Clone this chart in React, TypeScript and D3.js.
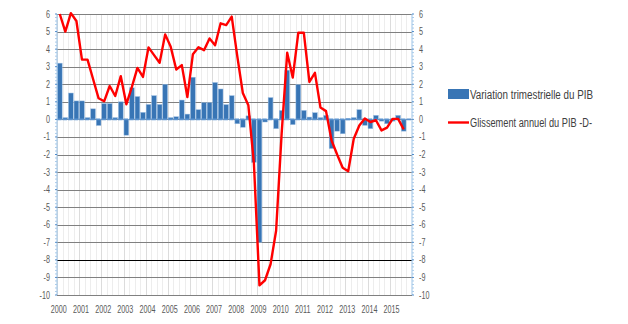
import React from "react";
import * as d3 from "d3";

const years = [2000, 2001, 2002, 2003, 2004, 2005, 2006, 2007, 2008, 2009, 2010, 2011, 2012, 2013, 2014, 2015];
const quarterNames = ["T1", "T2", "T3", "T4"];

// Variation trimestrielle du PIB (bars), 2000T1 .. 2015T3
const variationTrimestrielle = [
  3.2, 0.1, 1.5, 1.05,
  1.05, 0.1, 0.6, -0.35,
  0.9, 0.9, 0.1, 1.0,
  -0.9, 1.8, 1.3, 0.4,
  0.85, 1.35, 0.85, 2.0,
  0.1, 0.15, 1.1, 0.3,
  2.4, 0.55, 0.95, 0.95,
  2.1, 1.73, 0.84, 1.35,
  -0.25, -0.45, 0.2, -2.45,
  -7.0, -0.15, 1.24, -0.53,
  0.51, 2.8, -0.3, 1.98,
  0.51, 0.13, 0.38, 0.1,
  0.23, -1.66, -0.67, -0.82,
  0.05, 0.1, 0.55, -0.34,
  -0.53, 0.23, -0.1, -0.25,
  -0.1, 0.23, -0.67,
];

// Glissement annuel du PIB -D- (line)
const glissementAnnuel = [
  6.0, 5.0, 6.05, 5.6,
  3.4, 3.4, 2.3, 1.2,
  1.03, 1.9, 1.33, 2.46,
  0.86, 1.85, 2.93, 2.42,
  4.1, 3.66, 3.22, 4.84,
  4.13, 2.84, 3.09, 1.27,
  3.71, 4.11, 3.94, 4.61,
  4.22, 5.47, 5.37, 5.85,
  3.6, 1.5, 0.8, -2.5,
  -9.45, -9.16, -8.25, -6.34,
  -0.8, 3.79, 2.38, 4.93,
  4.93, 2.13, 2.65, 0.67,
  0.47, -1.2, -2.0, -2.75,
  -2.95, -1.1, -0.35, 0.05,
  -0.15, -0.05, -0.63, -0.47,
  0.03, 0.03, -0.57,
];

const yTicks = [6, 5, 4, 3, 2, 1, 0, -1, -2, -3, -4, -5, -6, -7, -8, -9, -10];
const legendLabels = ["Variation trimestrielle du PIB", "Glissement annuel du PIB -D-"];

const W = 628;
const H = 324;
const left = 57;
const right = 412;
const top = 14;
const bottom = 295;

export default function App() {
  const quarters = years.flatMap((y) => quarterNames.map((q) => `${y}${q}`));
  const x = d3.scaleBand<string>().domain(quarters).range([left, right]).paddingInner(0.14).paddingOuter(0.07);
  const step = x.step();
  const y = d3.scaleLinear().domain([-10, 6]).range([bottom, top]);

  const line = d3
    .line<number>()
    .x((_, i) => (x(quarters[i]) as number) + x.bandwidth() / 2)
    .y((d) => y(d))
    .curve(d3.curveLinear);

  const minor = d3.range(-10, 6.001, 0.2);
  const labelFont = "'Liberation Sans', Arial, sans-serif";

  return (
    <svg width={W} height={H} style={{ position: "absolute", left: 0, top: 0, background: "#fff" }}>
      {/* vertical quarter grid */}
      {quarters.map((q, i) => {
        const xx = Math.round(left + i * (right - left) / quarters.length) + 0.5;
        return (
          <line
            key={"v" + q}
            x1={xx}
            x2={xx}
            y1={top}
            y2={bottom}
            stroke={i % 4 === 0 ? "#dcdcdc" : "#ededed"}
            strokeWidth={1}
          />
        );
      })}
      {/* horizontal grid */}
      {yTicks.map((t) => (
        <line
          key={"h" + t}
          x1={left}
          x2={right}
          y1={Math.round(y(t)) + 0.5}
          y2={Math.round(y(t)) + 0.5}
          stroke={t === -8 ? "#000" : "#808080"}
          strokeWidth={1}
        />
      ))}
      {/* bars */}
      {variationTrimestrielle.map((v, i) => {
        const xx = x(quarters[i]) as number;
        const y0 = y(0);
        const y1 = y(v);
        return (
          <rect
            key={"b" + i}
            x={xx}
            y={Math.min(y0, y1)}
            width={x.bandwidth()}
            height={Math.max(Math.abs(y1 - y0), 1.5)}
            fill="#3875b5"
            stroke="#9dbfe3"
            strokeWidth={0.5}
          />
        );
      })}
      {/* zero line */}
      <line x1={left} x2={right} y1={y(0)} y2={y(0)} stroke="#5b93cf" strokeWidth={1.6} strokeDasharray={`${step - 1},1`} />
      {/* red line */}
      <path d={line(glissementAnnuel) || ""} fill="none" stroke="#ff0000" strokeWidth={2.4} strokeLinejoin="round" />
      {/* axes */}
      <line x1={left} x2={left} y1={top} y2={bottom} stroke="#9cc3e6" strokeWidth={1} />
      <line x1={right} x2={right} y1={top} y2={bottom} stroke="#9cc3e6" strokeWidth={1} />
      {minor.map((m, i) => (
        <g key={"m" + i}>
          <line x1={left - 2} x2={left} y1={y(m)} y2={y(m)} stroke={i % 5 === 0 ? "#4f8ccc" : "#a9cbea"} strokeWidth={1} />
          <line x1={right} x2={right + 2} y1={y(m)} y2={y(m)} stroke={i % 5 === 0 ? "#4f8ccc" : "#a9cbea"} strokeWidth={1} />
        </g>
      ))}
      {/* y tick labels */}
      {yTicks.map((t) => (
        <g key={"yl" + t}>
          <text
            transform={`translate(50,${y(t) + 3.5}) scale(0.72,1)`}
            textAnchor="end"
            fontFamily={labelFont}
            fontSize={10}
            fill="#595959"
          >
            {t}
          </text>
          <text
            transform={`translate(419,${y(t) + 3.5}) scale(0.72,1)`}
            textAnchor="start"
            fontFamily={labelFont}
            fontSize={10}
            fill="#595959"
          >
            {t}
          </text>
        </g>
      ))}
      {/* x labels */}
      {years.map((yr) => {
        const xx = (x(`${yr}T1`) as number) + x.bandwidth() / 2;
        return (
          <text
            key={"xl" + yr}
            transform={`translate(${xx - 1},313) scale(0.72,1)`}
            textAnchor="middle"
            fontFamily={labelFont}
            fontSize={10}
            fill="#595959"
          >
            {yr}
          </text>
        );
      })}
      {/* legend */}
      <rect x={448} y={89} width={21} height={10} fill="#3875b5" />
      <text x={470} y={98.5} fontFamily={labelFont} fontSize={12} fill="#404040" textLength={123} lengthAdjust="spacingAndGlyphs">
        {legendLabels[0]}
      </text>
      <line x1={448} x2={469} y1={122.5} y2={122.5} stroke="#ff0000" strokeWidth={2.4} />
      <text x={470} y={126.5} fontFamily={labelFont} fontSize={12} fill="#404040" textLength={122} lengthAdjust="spacingAndGlyphs">
        {legendLabels[1]}
      </text>
    </svg>
  );
}
